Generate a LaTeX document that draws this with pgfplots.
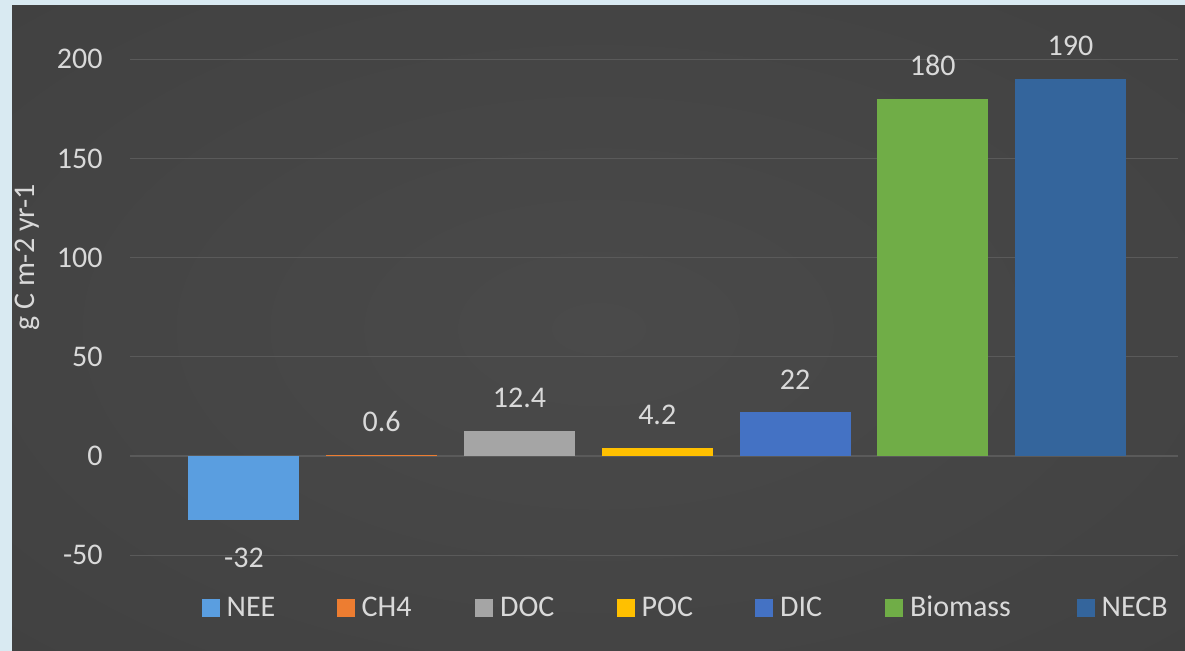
\documentclass[border=0pt]{standalone}
\usepackage{pgfplots}
\pgfplotsset{compat=1.18}
\usepackage{fontspec}
\setmainfont{Carlito}
\definecolor{txt}{HTML}{D9D9D9}
\definecolor{framec}{HTML}{D9EAF2}
\definecolor{bgin}{HTML}{4A4A4A}
\definecolor{bgmid}{HTML}{404040}
\definecolor{bgout}{HTML}{2E2E2E}
\definecolor{gridc}{HTML}{5A5A5A}
\definecolor{nee}{HTML}{5A9EE0}
\definecolor{chf}{HTML}{ED7D31}
\definecolor{doc}{HTML}{A5A5A5}
\definecolor{poc}{HTML}{FFC000}
\definecolor{dic}{HTML}{4472C4}
\definecolor{bio}{HTML}{70AD47}
\definecolor{necb}{HTML}{34659C}
\pgfdeclareradialshading{bgshade}{\pgfpoint{0bp}{0bp}}{color(0bp)=(bgin); color(40bp)=(bgmid); color(72bp)=(bgout)}
\newcommand{\bigf}{\fontsize{15}{18}\selectfont}
\begin{document}
\begin{tikzpicture}
\fill[framec] (0,0) rectangle (592.5pt,325.5pt);
\shade[shading=bgshade] (6pt,0) rectangle (592.5pt,322.5pt);
\useasboundingbox (0,0) rectangle (592.5pt,325.5pt);
\begin{axis}[
  at={(65pt,28pt)}, anchor=south west,
  scale only axis, width=524pt, height=277.8pt,
  xmin=-0.827, xmax=6.78, ymin=-70, ymax=210,
  clip=false,
  axis lines*=left, axis line style={draw=none},
  xtick=\empty, major tick length=0pt,
  ytick={-50,0,50,100,150,200},
  ymajorgrids, grid style={color=gridc, line width=0.6pt},
  yticklabel style={text=txt, font=\bigf, inner sep=0pt, anchor=east, xshift=-13.5pt},
  /pgf/number format/assume math mode=true,
  ybar, bar width=55.5pt, bar shift=0pt,
  legend image code/.code={\fill[#1] (0pt,-4.5pt) rectangle (9pt,4.5pt);},
  nodes near coords,
  every node near coord/.append style={text=txt, font=\bigf, inner sep=0pt},
  legend columns=-1, legend cell align=left,
  legend style={at={(0.0684,-0.0234)}, anchor=west, draw=none, fill=none,
    inner sep=0pt, outer sep=0pt, text=txt, font=\bigf, nodes={inner sep=0pt},
    /tikz/every odd column/.append style={column sep=3.5pt},
    /tikz/every even column/.append style={column sep=0pt}},
]
\addplot[fill=nee, draw=none, every node near coord/.append style={anchor=north, yshift=-14pt}] coordinates {(0,-32)};
\addlegendentry{\makebox[55pt][l]{NEE}}
\addplot[fill=chf, draw=none, every node near coord/.append style={anchor=south, yshift=11.5pt}] coordinates {(1,0.6)};
\addlegendentry{\makebox[56.7pt][l]{CH4}}
\addplot[fill=doc, draw=none, every node near coord/.append style={anchor=south, yshift=11.5pt}] coordinates {(2,12.4)};
\addlegendentry{\makebox[58.3pt][l]{DOC}}
\addplot[fill=poc, draw=none, every node near coord/.append style={anchor=south, yshift=11.5pt}] coordinates {(3,4.2)};
\addlegendentry{\makebox[56.7pt][l]{POC}}
\addplot[fill=dic, draw=none, every node near coord/.append style={anchor=south, yshift=11.5pt}] coordinates {(4,22)};
\addlegendentry{\makebox[52.5pt][l]{DIC}}
\addplot[fill=bio, draw=none, every node near coord/.append style={anchor=south, yshift=11.5pt}] coordinates {(5,180)};
\addlegendentry{\makebox[83.3pt][l]{Biomass}}
\addplot[fill=necb, draw=none, every node near coord/.append style={anchor=south, yshift=11.5pt}] coordinates {(6,190)};
\addlegendentry{NECB}
\end{axis}
\node[rotate=90, text=txt, font=\fontsize{15}{18}\selectfont, inner sep=0pt] at (13.75pt,196.75pt) {g C m-2 yr-1};
\end{tikzpicture}
\end{document}
